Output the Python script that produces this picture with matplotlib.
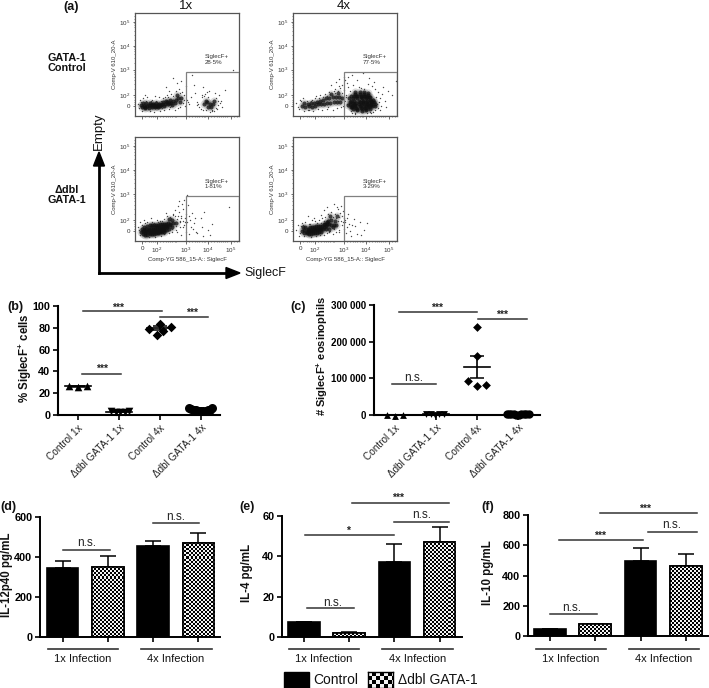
import numpy as np
import matplotlib
matplotlib.use("Agg")
import matplotlib.pyplot as plt
from matplotlib.lines import Line2D
from matplotlib.patches import Rectangle, Polygon

plt.rcParams['font.family'] = ['Liberation Sans', 'DejaVu Sans']
plt.rcParams['mathtext.fontset'] = 'custom'
plt.rcParams['mathtext.rm'] = 'Liberation Sans'
plt.rcParams['mathtext.bf'] = 'Liberation Sans:bold'
plt.rcParams['mathtext.it'] = 'Liberation Sans:italic'

W, H = 709, 688
INK = '#111111'

# ---------- data: flow cytometry panels (display channel units, 0-100) ----------
flow_titles = ['1x', '4x']
gate_labels = ['28·5%', '77·5%', '1·81%', '3·29%']

p1_dense_x = [6,9,12,15,18,21,24,8,11,14,17,20,23,26,10,13,16,19,22,29,32,35,38,30,34,37,41,44,40,66,69,72,75,70,73,68,76,
              7,10,13,16,19,22,25,28,31,27,33,36,39,43]
p1_dense_y = [11,10,10,10.5,11,10,10,13,13,12.5,12,13,12,12,8,8,8.5,9,8.5,12,11.5,13,13,15,16,15,17,17,20,12,14,12,12,9,9,15,15,
              9,9,11,11,9.5,11,11,10,14,14,13,11,16,14]
p1_sparse_x = [3,5,8,12,16,19,23,27,31,35,39,42,45,47,50,52,46,43,38,33,28,24,18,14,7,4,10,21,26,34,36,41,48,54,58,60,62,64,78,80,82,77,84,63,61,67,72,74,79,83,71,57,94,87,55,40,37,33,30,44,49,65,69,76,81,
               6,11,15,20,25,29,32,37,43,47,51,60,65,68,74,78,80,66,70,64]
p1_sparse_y = [12,16,17,18,16,19,18,17,20,21,24,26,23,20,16,12,13,9,6,7,6,5,4,5,5,8,20,14,8,9,11,8,10,18,22,14,9,18,17,11,13,22,9,7,12,21,4,6,7,15,24,30,45,25,40,32,37,24,28,34,29,28,23,5,20,
               14,15,15,15,15,18,18,19,22,16,14,11,6,6,5,8,15,19,18,20]

p2_dense_x = [9,12,15,18,21,24,27,11,14,17,20,23,26,29,30,33,36,39,42,45,32,35,38,41,44,47,37,43,55,59,63,67,71,75,54,58,62,66,70,74,78,57,61,65,69,73,60,64,68,72,66,62,70,
              57,60,64,68,72,76,53,56,59,63,67,71,75,65,69,61,73,
              55,58,61,64,67,70,73,76,79,56,59,62,65,68,71,74,77,58,62,66,70,74,60,64,68,72,56,60,65,70,75,79]
p2_dense_y = [10,9,10,9,10,12,12,13,12,13,13,14,15,16,12,13,13,14,14,14,17,17,18,18,18,17,21,22,14,12,12,13,12,12,17,17,17,17,17,16,14,9,8,8,8,9,21,21,21,20,5,6,6,
              10,10,10,10,10,10,11,15,15,15,15,15,15,19,19,19,18,
              12,13,13,14,14,14,13,14,12,19,19,19,18,19,18,18,16,7,7,7,7,7,23,23,23,22,9,11,11,11,11,10]
p2_sparse_x = [3,5,7,10,14,18,22,26,31,35,40,44,47,49,51,48,46,42,38,33,28,24,19,15,11,6,37,41,45,50,52,53,80,83,85,88,82,79,76,72,68,63,58,84,86,89,56,91,95,99,53,57,62,67,73,78,87,44,49,39,34,60,74,55,65,
               8,13,17,21,25,29,33,36,40,43,47,50,51,52,81,82,84,79,77,57,60,71,75]
p2_sparse_y = [13,9,16,17,6,16,19,20,21,23,26,29,30,25,20,10,9,8,6,7,6,7,5,6,5,7,30,33,27,35,32,28,18,14,10,15,23,26,29,31,26,28,30,6,21,9,5,24,20,34,38,40,35,42,37,33,28,36,38,24,9,3,4,24,27,
               15,15,15,17,17,18,19,21,22,24,22,15,18,12,12,8,17,6,4,3,2,3,3]

p3_dense_x = [6,8,10,12,14,16,18,20,22,24,26,28,7,9,11,13,15,17,19,21,23,25,27,29,31,8,10,12,14,16,18,20,22,24,26,28,30,33,36,30,32,34,37,39,33,36,
              9,11,13,15,17,19,21,23,25,27,29,31,34,12,14,16,18,20,22,24,26,28]
p3_dense_y = [9,10,8,9,8,9,9,10,9,10,11,11,12,13,12,12,13,12,13,13,13,13,14,14,14,7,6,6,7,7,7,8,8,9,9,9,11,12,13,16,17,16,17,17,21,20,
              11,10,11,10,11,11,11,11,12,12,13,13,15,14,15,15,15,15,15,16,16,16]
p3_sparse_x = [3,5,9,12,15,18,21,24,28,31,34,37,40,42,44,46,48,39,36,33,25,19,13,5,4,43,47,50,52,55,58,41,38,45,51,54,57,60,63,66,70,74,90,50,47,42,37,30,52,56,65,72,49,44,40,43,
               7,10,16,22,26,33,35,38,41,43,46,48,49,44,39,36,32,28,46,53,59,64]
p3_sparse_y = [13,18,20,18,22,17,20,19,21,24,23,26,21,28,24,31,22,11,9,8,5,4,4,6,11,13,15,18,24,27,22,34,30,36,35,13,17,8,22,28,11,16,33,44,39,38,25,27,7,12,5,6,9,6,9,18,
               15,17,18,18,19,20,22,24,24,19,19,18,26,22,14,12,10,7,13,20,9,13]

p4_dense_x = [9,11,13,15,17,19,21,23,25,27,10,12,14,16,18,20,22,24,26,28,30,32,13,15,17,19,21,23,25,27,31,33,35,37,39,41,34,37,40,36,42,
              11,14,17,20,23,26,29,32,35,38,30,33]
p4_dense_y = [10,11,9,10,10,10,11,11,12,12,13,13,12,13,13,13,14,14,14,14,13,14,8,7,7,8,8,8,9,9,16,16,16,15,15,15,19,20,19,24,24,
              8,11,11,12,12,12,12,12,12,13,16,18]
p4_sparse_x = [3,5,7,9,12,15,18,21,25,28,31,34,37,40,43,45,47,49,44,41,38,35,30,26,22,17,11,6,50,52,54,46,42,39,48,55,57,51,53,60,64,68,71,62,59,33,36,30,44,49,65,20,14,27,56,
               8,10,16,23,27,30,36,38,41,44,46,48,43,39,35,33,50,52,47]
p4_sparse_y = [11,15,8,17,18,16,20,19,20,22,23,26,28,26,31,27,24,22,11,9,7,10,6,6,5,4,5,5,18,13,16,34,33,36,29,10,15,8,26,14,18,11,17,7,21,33,10,30,9,12,6,22,24,25,5,
               14,15,16,17,17,19,21,23,22,23,19,18,19,12,9,8,20,22,15]

flow_dense = [(p1_dense_x, p1_dense_y), (p2_dense_x, p2_dense_y), (p3_dense_x, p3_dense_y), (p4_dense_x, p4_dense_y)]
flow_sparse = [(p1_sparse_x, p1_sparse_y), (p2_sparse_x, p2_sparse_y), (p3_sparse_x, p3_sparse_y), (p4_sparse_x, p4_sparse_y)]

flow_xticks = [7, 21, 49, 70, 92]
flow_xlabels = ['0', '$10^{2}$', '$10^{3}$', '$10^{4}$', '$10^{5}$']
flow_yticks = [10, 20, 45, 68, 91]
flow_ylabels = ['0', '$10^{2}$', '$10^{3}$', '$10^{4}$', '$10^{5}$']

# ---------- data: dot plots ----------
dot_categories = ['Control 1x', 'Δdbl GATA-1 1x', 'Control 4x', 'Δdbl GATA-1 4x']

b_offsets = [[-.22, 0, .22], [-.19, -.07, .03, .14, .24], [-.28, -.08, 0, .08, .26],
             [-.3, -.24, -.18, -.12, -.06, 0, .06, .12, .18, .22, .26]]
b_values = [[27, 25.5, 26.5], [3.5, 2.5, 3, 2.5, 3.5], [78.5, 73, 83.5, 77.5, 81],
            [6.5, 5.5, 5, 4.5, 4, 3.5, 3.5, 4, 4.5, 5, 6]]
b_mean = [26.3, 3, 79.5, 4.6]
b_sem = [0.5, 0.4, 1.8, 0.3]

c_offsets = [[-.2, 0, .2], [-.24, -.12, -.02, .08, .2], [-.21, 0, 0, 0, .21],
             [-.28, -.22, -.16, -.1, -.04, .02, .08, .14, .2, .26]]
c_values = [[1000, -1500, 1000], [3000, 2000, 500, 1500, 3000], [93000, 240000, 160000, 80000, 82000],
            [3500, 2500, 3000, 2000, 1000, 1000, 2000, 2500, 3000, 3500]]
c_mean = [0, 2000, 131000, 2300]
c_sem = [0, 0, 31000, 0]

dot_markers = ['^', 'v', 'D', 'o']

# ---------- data: bar charts ----------
group_labels = ['1x Infection', '4x Infection']
legend_labels = ['Control', 'Δdbl GATA-1']

d_values = [345, 352, 455, 472]
d_upper = [378, 405, 478, 520]
e_values = [7.2, 2.2, 37, 47]
e_upper = [7.5, 2.5, 46, 54.5]
f_values = [45, 78, 495, 462]
f_upper = [48, 82, 585, 545]

# ---------- helpers ----------
fig = plt.figure(figsize=(W / 100, H / 100), dpi=100, facecolor='white')


def axes_px(left, top, right, bottom):
    return fig.add_axes([left / W, 1 - bottom / H, (right - left) / W, (bottom - top) / H])


def ftext(x, y, s, **kw):
    kw.setdefault('ha', 'center')
    kw.setdefault('va', 'center')
    kw.setdefault('color', INK)
    return fig.text(x / W, 1 - y / H, s, **kw)


def fline(x0, y0, x1, y1, color='#333333', lw=1.1):
    fig.add_artist(Line2D([x0 / W, x1 / W], [1 - y0 / H, 1 - y1 / H], color=color, lw=lw,
                          transform=fig.transFigure))


def sig(x0, x1, y, label, tx, ty):
    fline(x0, y, x1, y)
    if label == 'n.s.':
        ftext(tx, ty, label, fontsize=8.5, color='#222222')
    else:
        ftext(tx, ty, label, fontsize=7.5, fontweight='bold', color='#222222')


def checker(ax, cell, pw, ph, clip=None):
    yy, xx = np.mgrid[0:int(ph), 0:int(pw)]
    img = ((xx // cell + yy // cell) % 2).astype(float)
    x0, x1 = ax.get_xlim()
    y0, y1 = ax.get_ylim()
    im = ax.imshow(img, cmap='gray', vmin=0, vmax=1.05, extent=[x0, x1, y0, y1], origin='lower',
                   aspect='auto', interpolation='nearest', zorder=2.5)
    ax.set_xlim(x0, x1)
    ax.set_ylim(y0, y1)
    if clip is not None:
        im.set_clip_path(clip)
    return im


# ---------- (a) flow panels ----------
flow_boxes = [(135, 13, 239, 116), (293, 13, 397, 116), (135, 137, 239, 241), (293, 137, 397, 241)]
for i, box in enumerate(flow_boxes):
    ax = axes_px(*box)
    ax.set_xlim(0, 100)
    ax.set_ylim(0, 100)
    dx, dy = flow_dense[i]
    sx, sy = flow_sparse[i]
    ax.scatter(dx, dy, s=34, color='#222222', alpha=0.16, linewidths=0, zorder=2)
    ax.scatter(dx, dy, s=9, color='#111111', alpha=0.75, linewidths=0, zorder=2.1)
    ax.scatter(sx, sy, s=1.0, color='#2a2a2a', alpha=0.85, linewidths=0, zorder=2.2)
    ax.add_patch(Rectangle((49, 0), 51, 43, fill=False, ec='#808080', lw=0.9, zorder=3))
    for s in ax.spines.values():
        s.set_color('#555555')
        s.set_linewidth(0.9)
    ax.set_xticks(flow_xticks)
    ax.set_yticks(flow_yticks)
    ax.set_yticklabels(flow_ylabels, fontsize=4.5)
    if i >= 2:
        ax.set_xticklabels(flow_xlabels, fontsize=4.5)
        ax.set_xlabel('Comp-YG 586_15-A:: SiglecF', fontsize=4.3, labelpad=1.2, color='#333333')
    else:
        ax.set_xticklabels([])
    ax.tick_params(axis='both', length=1.8, width=0.5, pad=1.5, color='#333333', labelcolor='#333333')
    minor_x = [m + d for m in flow_xticks[1:] for d in (3, 6, 9, 11, 13, 15, 17, 18.5)]
    minor_x = [m for m in minor_x if m < 100] + [10, 13, 15, 17, 19]
    ax.set_xticks(minor_x, minor=True)
    ax.set_yticks([12, 14, 16, 18, 26, 31, 35, 38, 41, 43, 51, 56, 60, 63, 65, 67, 74, 79, 83, 86, 88, 90, 94, 97], minor=True)
    ax.tick_params(axis='both', which='minor', length=1.0, width=0.4, color='#333333')
    ax.set_ylabel('Comp-V 610_20-A', fontsize=4.3, labelpad=1.5, color='#333333')
    ax.text(67, 55, 'SiglecF+\n' + gate_labels[i], fontsize=4.4, ha='left', va='center',
            color='#333333', linespacing=1.1)

ftext(186, 6, flow_titles[0], fontsize=9.5)
ftext(344, 6, flow_titles[1], fontsize=9.5)
ftext(71, 7, '(a)', fontsize=9, fontweight='bold')
ftext(67, 63, 'GATA-1\nControl', fontsize=7.8, fontweight='bold', linespacing=1.1)
ftext(67, 195, 'Δdbl\nGATA-1', fontsize=7.8, fontweight='bold', linespacing=1.1)

fline(99, 273, 99, 165, color='black', lw=2)
fline(99, 273, 227, 273, color='black', lw=2)
fig.add_artist(Polygon([(93.5 / W, 1 - 166 / H), (104.5 / W, 1 - 166 / H), (99 / W, 1 - 152 / H)],
                       closed=True, color='black', transform=fig.transFigure))
fig.add_artist(Polygon([(226 / W, 1 - 267.5 / H), (226 / W, 1 - 278.5 / H), (240 / W, 1 - 273 / H)],
                       closed=True, color='black', transform=fig.transFigure))
ftext(99, 131, 'Empty', fontsize=9.5, rotation=90)
ftext(244, 273, 'SiglecF', fontsize=9, ha='left')


# ---------- (b), (c) dot plots ----------
def dot_panel(box, cat0, step, ymax, yticks, ylabels, offsets, values, means, sems, msizes, tickfont):
    ax = axes_px(*box)
    ax.set_xlim((box[0] - cat0) / step, (box[2] - cat0) / step)
    ax.set_ylim(0, ymax)
    for k, (off, val) in enumerate(zip(offsets, values)):
        ax.scatter(k + np.array(off), val, marker=dot_markers[k], s=msizes[k], color='black',
                   linewidths=0, zorder=3, clip_on=False)
        if means[k] != 0:
            ax.plot([k - .32, k + .32], [means[k]] * 2, color='black', lw=1.2, zorder=4, clip_on=False)
        if sems[k] != 0:
            ax.errorbar(k, means[k], yerr=sems[k], color='black', lw=1.2, capsize=5, capthick=1.1, zorder=4)
    for s in ('top', 'right'):
        ax.spines[s].set_visible(False)
    for s in ('left', 'bottom'):
        ax.spines[s].set_linewidth(1.5)
    ax.set_xticks(range(4))
    ax.set_xticklabels(dot_categories, rotation=45, ha='right', rotation_mode='anchor', fontsize=7.2, color='#222222')
    ax.set_yticks(yticks)
    ax.set_yticklabels(ylabels, fontsize=tickfont, fontweight='bold')
    ax.tick_params(axis='both', length=3.5, width=1.2, pad=2)
    return ax


dot_panel((58, 306, 220, 415), 78, 41, 100, [0, 20, 40, 60, 80, 100], ['0', '20', '40', '60', '80', '100'],
          b_offsets, b_values, b_mean, b_sem, [30, 30, 24, 42], 7.8)
dot_panel((374, 305, 540, 415), 395, 41, 300000, [0, 100000, 200000, 300000], ['0', '100 000', '200 000', '300 000'],
          c_offsets, c_values, c_mean, c_sem, [24, 24, 20, 36], 7.0)

ftext(15, 307, '(b)', fontsize=9, fontweight='bold')
ftext(298, 307, '(c)', fontsize=9, fontweight='bold')
ftext(25, 358, '% SiglecF$^{\\mathbf{+}}$ cells', fontsize=8.3, fontweight='bold', rotation=90)
ftext(322, 356, '# SiglecF$^{\\mathbf{+}}$ eosinophils', fontsize=8.0, fontweight='bold', rotation=90)

sig(83, 162, 311, '***', 118, 308)
sig(160, 208, 317, '***', 192, 313)
sig(82, 121, 374, '***', 102, 369)
sig(399, 477, 312, '***', 437, 308)
sig(478, 527, 319, '***', 502, 315)
sig(392, 436, 384, 'n.s.', 414, 378)


# ---------- (d), (e), (f) bar charts ----------
def bar_panel(box, cat0, step, ymax, yticks, values, upper):
    ax = axes_px(*box)
    ax.set_xlim((box[0] - cat0) / step, (box[2] - cat0) / step)
    ax.set_ylim(0, ymax)
    x = np.arange(4)
    v = np.array(values, float)
    up = np.array(upper, float) - v
    ax.errorbar(x, v, yerr=[np.zeros(4), up], fmt='none', ecolor='black', elinewidth=1.1,
                capsize=5.5, capthick=1.1, zorder=1.5)
    bars = ax.bar(x, values, width=0.7, color='black', edgecolor='black', linewidth=1.2, zorder=2)
    pw = box[2] - box[0]
    ph = box[3] - box[1]
    for k in (1, 3):
        checker(ax, 2, pw, ph, clip=bars[k])
        ax.add_patch(Rectangle((x[k] - .35, 0), .7, values[k], fill=False, ec='black', lw=1.2, zorder=3))
    for s in ('top', 'right'):
        ax.spines[s].set_visible(False)
    for s in ('left', 'bottom'):
        ax.spines[s].set_linewidth(1.4)
    ax.set_xticks(x)
    ax.set_xticklabels([])
    ax.set_yticks(yticks)
    ax.set_yticklabels([str(t) for t in yticks], fontsize=7.8, fontweight='bold')
    ax.tick_params(axis='both', length=3.5, width=1.2, pad=2)
    return ax


bar_panel((40, 517, 220, 637), 62.5, 45.3, 600, [0, 200, 400, 600], d_values, d_upper)
bar_panel((282, 516, 462, 637), 304, 45.2, 60, [0, 20, 40, 60], e_values, e_upper)
bar_panel((528, 515, 708, 636), 550, 45.3, 800, [0, 200, 400, 600, 800], f_values, f_upper)

ftext(8, 507, '(d)', fontsize=9, fontweight='bold')
ftext(247, 507, '(e)', fontsize=9, fontweight='bold')
ftext(488, 507, '(f)', fontsize=9, fontweight='bold')
ftext(7, 575, 'IL-12p40 pg/mL', fontsize=8.3, fontweight='bold', rotation=90)
ftext(247, 573, 'IL-4 pg/mL', fontsize=8.3, fontweight='bold', rotation=90)
ftext(488, 573, 'IL-10 pg/mL', fontsize=8.3, fontweight='bold', rotation=90)

for (a0, a1, ta), (b0, b1, tb) in [((48, 118, 83), (141, 212, 176)),
                                   ((289, 359, 324), (382, 453, 418)),
                                   ((536, 606, 571), (629, 699, 664))]:
    fline(a0, 649, a1, 649, lw=1.2)
    fline(b0, 649, b1, 649, lw=1.2)
    ftext(ta, 659, group_labels[0], fontsize=8)
    ftext(tb, 659, group_labels[1], fontsize=8)

sig(63, 110, 550, 'n.s.', 87, 543)
sig(153, 199, 523, 'n.s.', 176, 517)
sig(305, 394, 535, '*', 348, 531)
sig(352, 449, 503, '***', 398, 498)
sig(394, 449, 522, 'n.s.', 422, 515)
sig(307, 354, 608, 'n.s.', 333, 603)
sig(550, 597, 614, 'n.s.', 572, 608)
sig(559, 643, 540, '***', 600, 536)
sig(600, 697, 513, '***', 645, 509)
sig(648, 697, 532, 'n.s.', 672, 525)

# ---------- legend ----------
fig.add_artist(Rectangle((284 / W, 1 - 688 / H), 25 / W, 16 / H, color='black', transform=fig.transFigure))
lax = axes_px(368, 672, 393, 688)
lax.set_xlim(0, 1)
lax.set_ylim(0, 1)
checker(lax, 4, 25, 16)
lax.set_xticks([])
lax.set_yticks([])
for s in lax.spines.values():
    s.set_color('black')
    s.set_linewidth(1.0)
ftext(313, 680, legend_labels[0], fontsize=10, ha='left')
ftext(398, 680, legend_labels[1], fontsize=10, ha='left')

fig.savefig('out.png', dpi=100, facecolor='white')
